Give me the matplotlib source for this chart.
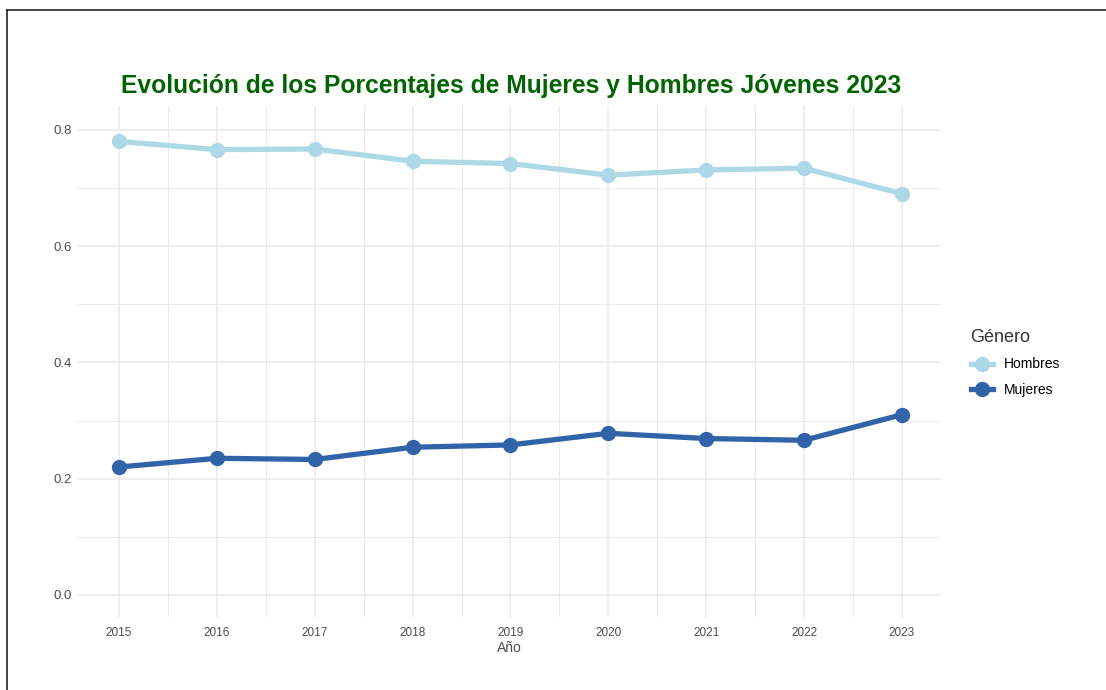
import matplotlib.pyplot as plt
from matplotlib.lines import Line2D

plt.rcParams['font.family'] = ['Liberation Sans', 'DejaVu Sans']

anios = [2015, 2016, 2017, 2018, 2019, 2020, 2021, 2022, 2023]
hombres = [0.780, 0.766, 0.767, 0.746, 0.742, 0.722, 0.731, 0.734, 0.690]
mujeres = [0.220, 0.235, 0.233, 0.254, 0.258, 0.278, 0.269, 0.266, 0.310]

color_h = '#ADD8E6'
color_m = '#3063A8'
grid_c = '#EBEBEB'
texto_c = '#4D4D4D'

fig = plt.figure(figsize=(11.06, 6.90), dpi=100)
ax = fig.add_axes([77 / 1106, 1 - 617 / 690, (941 - 77) / 1106, (617 - 106) / 690])

ax.plot(anios, hombres, color=color_h, lw=3.8, marker='o', ms=10, label='Hombres')
ax.plot(anios, mujeres, color=color_m, lw=3.8, marker='o', ms=10, label='Mujeres')

ax.set_xlim(2014.57, 2023.40)
ax.set_ylim(-0.038, 0.841)
ax.set_xticks(anios)
ax.set_xticks([a + 0.5 for a in anios[:-1]], minor=True)
ax.set_yticks([0.0, 0.2, 0.4, 0.6, 0.8])
ax.set_yticks([0.1, 0.3, 0.5, 0.7], minor=True)
ax.set_yticklabels(['0.0', '0.2', '0.4', '0.6', '0.8'])
ax.grid(which='major', color=grid_c, lw=1.2)
ax.grid(which='minor', color=grid_c, lw=0.7)
ax.set_axisbelow(True)
for s in ax.spines.values():
    s.set_visible(False)
ax.tick_params(which='both', length=0)
ax.tick_params(axis='x', labelsize=8.5, colors=texto_c, pad=7.5)
ax.tick_params(axis='y', labelsize=9.5, colors=texto_c, pad=4)
ax.set_xlabel('Año', fontsize=10, color=texto_c, labelpad=1)

fig.text(511 / 1106, 1 - 86 / 690, 'Evolución de los Porcentajes de Mujeres y Hombres Jóvenes 2023',
         ha='center', va='center', fontsize=17.7, fontweight='bold', color='#006400')

leg = ax.legend(title='Género', loc='center left', bbox_to_anchor=(958 / 1106, 1 - 363 / 690),
                bbox_transform=fig.transFigure, frameon=False, fontsize=10,
                title_fontsize=13, handlelength=1.6, labelspacing=0.8, alignment='left')
leg.get_title().set_color('#333333')

# marco de la imagen
fig.add_artist(Line2D([7 / 1106, 1], [1 - 10 / 690, 1 - 10 / 690], color='#222222', lw=1.2,
                      transform=fig.transFigure))
fig.add_artist(Line2D([7 / 1106, 7 / 1106], [0, 1 - 10 / 690], color='#222222', lw=1.2,
                      transform=fig.transFigure))

fig.savefig('out.png', dpi=100)
